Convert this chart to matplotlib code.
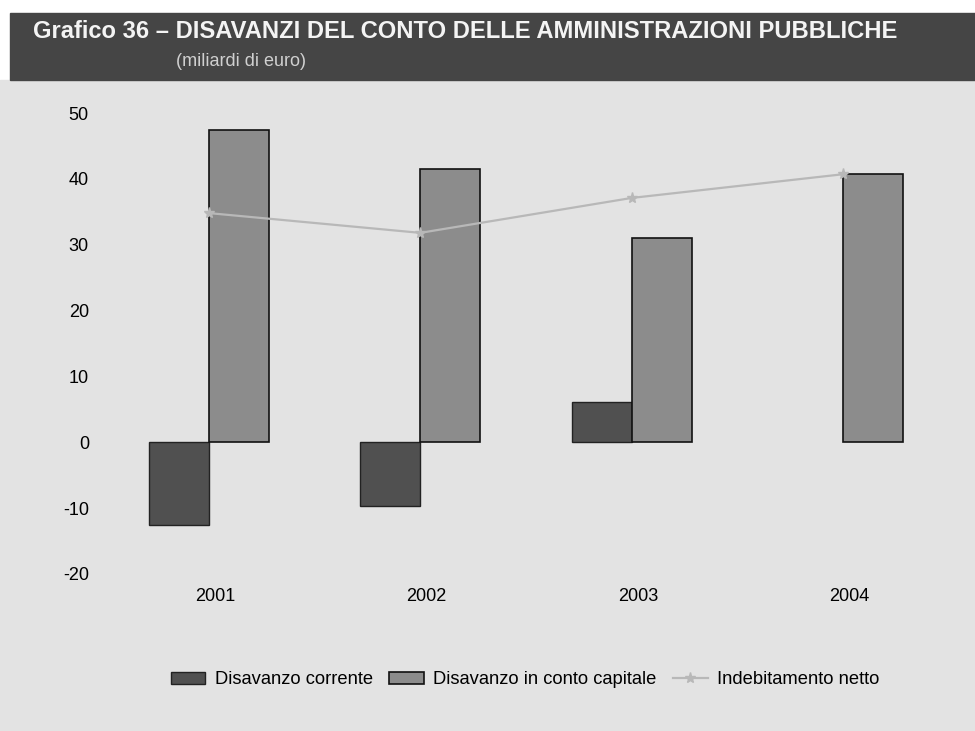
import matplotlib.pyplot as plt
from matplotlib.patches import Rectangle
import numpy as np

# Disavanzi del conto delle Amministrazioni pubbliche, miliardi di euro
years = ['2001', '2002', '2003', '2004']
disavanzo_corrente = [-12.6, -9.7, 6.1, 0.0]
disavanzo_capitale = [47.4, 41.5, 31.0, 40.7]
indebitamento_netto = [34.8, 31.8, 37.1, 40.7]
y_ticks = [-20, -10, 0, 10, 20, 30, 40, 50]

W, H = 975, 731
plt.rcParams['font.family'] = ['Liberation Sans', 'DejaVu Sans']

fig = plt.figure(figsize=(W / 100, H / 100), dpi=100, facecolor='white')

# page background and dark title band
fig.patches.append(Rectangle((0, 0), 1, 1 - 80 / H, transform=fig.transFigure,
                             color='#e3e3e3', zorder=-2))
fig.patches.append(Rectangle((10 / W, 1 - 80 / H), 1, 67 / H, transform=fig.transFigure,
                             color='#454545', zorder=-2))
fig.text(33 / W, 1 - 32 / H, 'Grafico 36 – DISAVANZI DEL CONTO DELLE AMMINISTRAZIONI PUBBLICHE',
         color='#f4f4f4', fontsize=17.1, fontweight='bold', va='center', ha='left')
fig.text(176 / W, 1 - 62 / H, '(miliardi di euro)', color='#d0d0d0',
         fontsize=13, va='center', ha='left')

left, right, top, bottom = 100, 965, 113, 574
ax = fig.add_axes([left / W, 1 - bottom / H, (right - left) / W, (bottom - top) / H])
ax.set_zorder(2)
ax.set_facecolor('none')

x = np.arange(len(years))
step = 211.3
w = 60 / step

# no outline for empty bars
lw_corr = [1.0 if v != 0 else 0 for v in disavanzo_corrente]
b1 = ax.bar(x - w / 2, disavanzo_corrente, w, color='#505050', edgecolor='#222222',
            linewidth=lw_corr, label='Disavanzo corrente', zorder=2)
b2 = ax.bar(x + w / 2, disavanzo_capitale, w, color='#8c8c8c', edgecolor='#111111',
            linewidth=1.2, label='Disavanzo in conto capitale', zorder=2)
ln, = ax.plot(x, indebitamento_netto, color='#b8b8b8', linewidth=1.6, marker='*',
              markersize=8, label='Indebitamento netto', zorder=3)

ax.set_xlim((left - 209) / step, (right - 209) / step)
ax.set_ylim(-20, 50)
ax.set_yticks(y_ticks)
ax.set_yticklabels([str(v) for v in y_ticks])
ax.set_xticks(x + 0.03)
ax.set_xticklabels(years)
ax.tick_params(axis='both', length=0, labelsize=13)
ax.tick_params(axis='x', pad=10)
ax.tick_params(axis='y', pad=8)
for s in ax.spines.values():
    s.set_visible(False)

leg = fig.legend(handles=[b1, b2, ln], loc='center', bbox_to_anchor=(525 / W, 1 - 680 / H),
                 ncol=3, frameon=False, fontsize=13.2, handlelength=1.9, handleheight=0.55,
                 handletextpad=0.5, columnspacing=0.9)
leg.set_zorder(3)

fig.savefig('out.png', dpi=100, facecolor='white')
